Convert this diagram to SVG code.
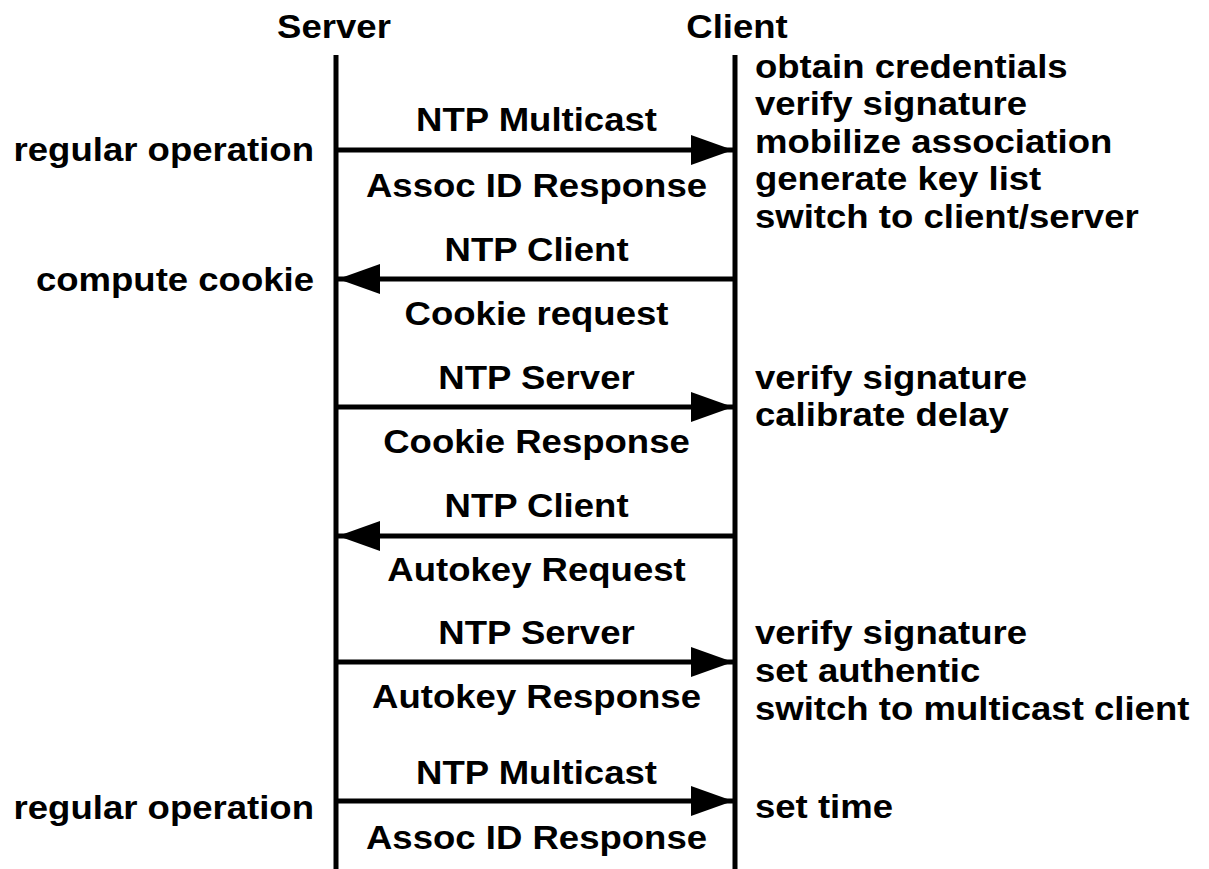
<svg xmlns="http://www.w3.org/2000/svg" width="1209" height="869" viewBox="0 0 1209 869">
<style>
text{font-family:"Liberation Sans",Arial,sans-serif;font-weight:bold;font-size:34px;fill:#000}
.c{text-anchor:middle}
.r{text-anchor:end}
.life{stroke:#000;stroke-width:5}
.msg{stroke:#000;stroke-width:5}
</style>
<defs>
<marker id="ah" markerUnits="userSpaceOnUse" markerWidth="44" markerHeight="30" refX="42" refY="15" orient="auto">
<path d="M0,0 L42,15 L0,30 Z" fill="#000"/>
</marker>
</defs>
<g id="server"><line class="life" x1="336" y1="55" x2="336" y2="869"/><text class="c" transform="scale(1.075,1)" x="310.7" y="38">Server</text></g>
<g id="client"><line class="life" x1="735" y1="55" x2="735" y2="869"/><text class="c" transform="scale(1.075,1)" x="685.6" y="38">Client</text></g>
<g id="connectors">
<line class="msg" x1="336" y1="150" x2="733" y2="150" marker-end="url(#ah)"/>
<line class="msg" x1="735" y1="279" x2="338" y2="279" marker-end="url(#ah)"/>
<line class="msg" x1="336" y1="407" x2="733" y2="407" marker-end="url(#ah)"/>
<line class="msg" x1="735" y1="536" x2="338" y2="536" marker-end="url(#ah)"/>
<line class="msg" x1="336" y1="662" x2="733" y2="662" marker-end="url(#ah)"/>
<line class="msg" x1="336" y1="801" x2="733" y2="801" marker-end="url(#ah)"/>
</g>
<g id="labels" transform="scale(1.075,1)">
<text class="c" x="499.1" y="131">NTP Multicast</text>
<text class="c" x="499.1" y="197">Assoc ID Response</text>
<text class="c" x="499.1" y="261">NTP Client</text>
<text class="c" x="499.1" y="325">Cookie request</text>
<text class="c" x="499.1" y="389">NTP Server</text>
<text class="c" x="499.1" y="453">Cookie Response</text>
<text class="c" x="499.1" y="517">NTP Client</text>
<text class="c" x="499.1" y="581">Autokey Request</text>
<text class="c" x="499.1" y="644">NTP Server</text>
<text class="c" x="499.1" y="708">Autokey Response</text>
<text class="c" x="499.1" y="784">NTP Multicast</text>
<text class="c" x="499.1" y="849">Assoc ID Response</text>
</g>
<g id="server-notes" transform="scale(1.075,1)">
<text class="r" x="292.1" y="161">regular operation</text>
<text class="r" x="292.1" y="291">compute cookie</text>
<text class="r" x="292.1" y="819">regular operation</text>
</g>
<g id="client-notes" transform="scale(1.075,1)">
<text x="702.3" y="78">obtain credentials</text>
<text x="702.3" y="115.5">verify signature</text>
<text x="702.3" y="153">mobilize association</text>
<text x="702.3" y="190.5">generate key list</text>
<text x="702.3" y="228">switch to client/server</text>
<text x="702.3" y="389">verify signature</text>
<text x="702.3" y="426">calibrate delay</text>
<text x="702.3" y="644">verify signature</text>
<text x="702.3" y="682">set authentic</text>
<text x="702.3" y="720">switch to multicast client</text>
<text x="702.3" y="818">set time</text>
</g>
</svg>
